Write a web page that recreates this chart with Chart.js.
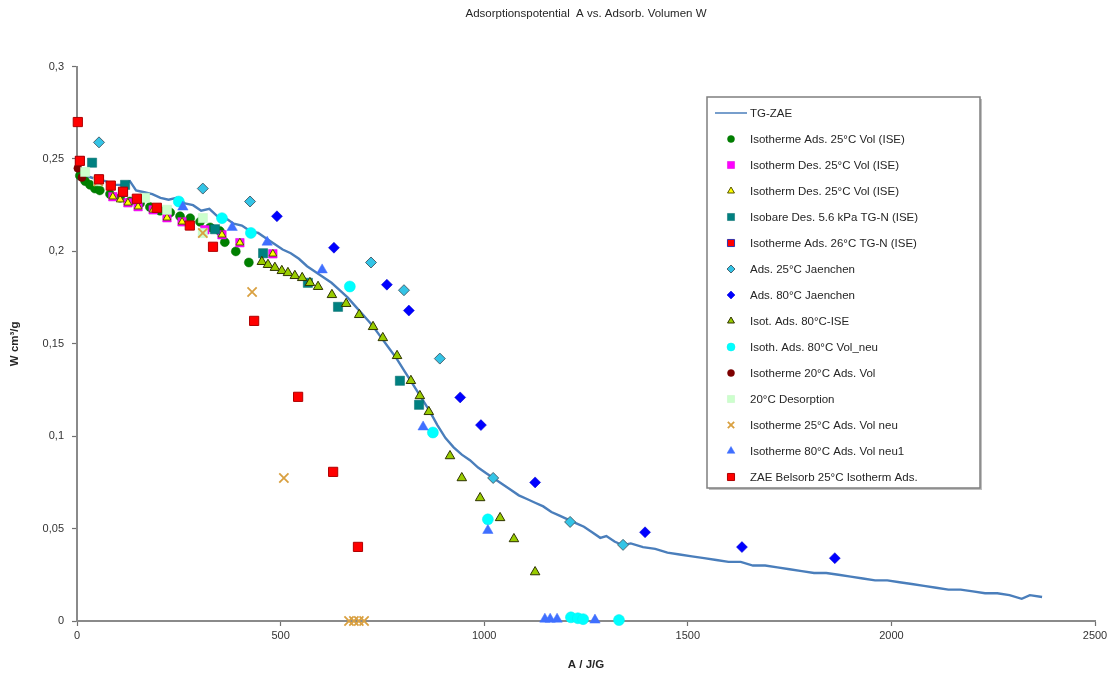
<!DOCTYPE html>
<html lang="de">
<head>
<meta charset="UTF-8">
<title>Adsorptionspotential A vs. Adsorb. Volumen W</title>
<script src="https://cdn.jsdelivr.net/npm/chart.js"></script>
<style>
  body { margin: 0; background: #ffffff; }
  canvas { display: block; }
</style>
</head>
<body>
<canvas id="chart" width="1119" height="684"></canvas>
<script>
// TG-ZAE measured curve (A in J/g, W in cm3/g)
const tgA = [0, 10, 20, 35, 50, 70, 90, 110, 130, 145, 165, 185, 205, 225, 245, 265, 285, 305, 325, 345,
  365, 385, 405, 425, 445, 465, 485, 505, 525, 545, 565, 585, 605, 625, 645, 665, 685, 705, 725, 745,
  765, 785, 805, 825, 845, 865, 885, 905, 925, 945, 965, 985, 1005, 1025, 1045, 1065, 1085, 1105, 1125, 1145,
  1165, 1185, 1205, 1225, 1245, 1265, 1285, 1300, 1320, 1340, 1360, 1390, 1420, 1450, 1480, 1510, 1540, 1570, 1600, 1630,
  1660, 1690, 1720, 1750, 1780, 1810, 1840, 1870, 1900, 1930, 1960, 1990, 2020, 2050, 2080, 2110, 2140, 2170, 2200, 2230,
  2260, 2290, 2320, 2340, 2370];
const tgW = [0.246, 0.243, 0.241, 0.240, 0.239, 0.238, 0.236, 0.236, 0.238, 0.233, 0.232, 0.231, 0.229, 0.228, 0.229, 0.226, 0.225, 0.222, 0.223, 0.219,
  0.218, 0.215, 0.214, 0.211, 0.210, 0.207, 0.204, 0.201, 0.199, 0.196, 0.192, 0.189, 0.186, 0.183, 0.179, 0.175, 0.170, 0.165, 0.160, 0.154,
  0.148, 0.142, 0.135, 0.128, 0.121, 0.114, 0.106, 0.099, 0.094, 0.090, 0.087, 0.083, 0.080, 0.077, 0.074, 0.071, 0.068, 0.066, 0.064, 0.062,
  0.059, 0.057, 0.055, 0.053, 0.051, 0.048, 0.045, 0.046, 0.043, 0.041, 0.042, 0.040, 0.039, 0.037, 0.036, 0.035, 0.034, 0.033, 0.032, 0.032,
  0.030, 0.030, 0.029, 0.028, 0.027, 0.026, 0.026, 0.025, 0.024, 0.023, 0.022, 0.022, 0.021, 0.020, 0.019, 0.018, 0.017, 0.017, 0.016, 0.015,
  0.015, 0.014, 0.012, 0.014, 0.013];

const ads25A = [7, 20, 32, 44, 56, 81, 106, 130, 155, 179, 204, 229, 253, 278, 302, 327, 351, 363, 390, 422];
const ads25W = [0.241, 0.238, 0.236, 0.234, 0.233, 0.231, 0.229, 0.227, 0.226, 0.224, 0.222, 0.221, 0.219, 0.218, 0.216, 0.213, 0.211, 0.205, 0.200, 0.194];

const des25mA = [88, 125, 150, 187, 221, 258, 314, 356, 400, 481];
const des25mW = [0.2296, 0.2263, 0.2242, 0.2225, 0.2182, 0.2160, 0.2117, 0.2090, 0.2047, 0.1987];

const des25tA = [88, 106, 125, 150, 187, 221, 258, 356, 400, 481];
const des25tW = [0.2296, 0.2280, 0.2263, 0.2242, 0.2225, 0.2182, 0.2160, 0.2090, 0.2047, 0.1987];

const isobarA = [37, 118, 339, 457, 567, 641, 793, 840];
const isobarW = [0.248, 0.236, 0.212, 0.199, 0.183, 0.170, 0.130, 0.117];

const ads26A = [7, 54, 113];
const ads26W = [0.249, 0.239, 0.232];

const jae25A = [54, 309, 425, 722, 803, 891, 1022, 1211, 1341];
const jae25W = [0.259, 0.234, 0.227, 0.194, 0.179, 0.142, 0.0774, 0.0536, 0.0412];

const jae80A = [491, 631, 761, 815, 941, 992, 1125, 1395, 1633, 1861];
const jae80W = [0.219, 0.202, 0.182, 0.168, 0.121, 0.106, 0.075, 0.048, 0.040, 0.034];

const ise80A = [454, 469, 486, 503, 518, 535, 553, 572, 592, 626, 661, 693, 727, 751, 786, 820, 842, 864, 916, 945, 990, 1039, 1073, 1125];
const ise80W = [0.1944, 0.1928, 0.1912, 0.1895, 0.1884, 0.1868, 0.1857, 0.1830, 0.1809, 0.1765, 0.1717, 0.1657, 0.1592, 0.1532, 0.1435, 0.1300, 0.1218, 0.1132, 0.0893, 0.0774, 0.0666, 0.0558, 0.0444, 0.0265];

const volNeuA = [250, 356, 427, 670, 874, 1009, 1213, 1230, 1243, 1331];
const volNeuW = [0.227, 0.218, 0.210, 0.181, 0.102, 0.055, 0.002, 0.0015, 0.001, 0.0005];

const ads20A = [2, 12];
const ads20W = [0.245, 0.240];

const des20A = [20, 52, 167, 221, 309, 309];
const des20W = [0.243, 0.238, 0.229, 0.2225, 0.218, 0.210];

const x25A = [52, 309, 430, 508, 668, 680, 692, 705];
const x25W = [0.238, 0.210, 0.178, 0.0774, 0, 0, 0, 0];

const neu1A = [260, 381, 467, 602, 850, 1009, 1149, 1162, 1179, 1272];
const neu1W = [0.224, 0.213, 0.205, 0.190, 0.105, 0.049, 0.001, 0.001, 0.001, 0.0005];

const belA = [2, 7, 54, 83, 113, 147, 196, 277, 334, 435, 543, 629, 690];
const belW = [0.270, 0.249, 0.239, 0.2356, 0.2323, 0.2285, 0.2236, 0.2140, 0.2025, 0.1624, 0.1213, 0.0807, 0.0401];

const xTicks = [0, 500, 1000, 1500, 2000, 2500];
const yTicks = [0, 0.05, 0.1, 0.15, 0.2, 0.25, 0.3];

function pts(xs, ys) {
  return xs.map((x, i) => ({ x: x, y: ys[i] }));
}

function scatter(label, xs, ys, style, fill, border, radius, bw, legendR) {
  return {
    label: label,
    data: pts(xs, ys),
    showLine: false,
    pointStyle: style,
    pointRadius: radius,
    pointHoverRadius: radius,
    backgroundColor: fill,
    borderColor: border,
    pointBorderWidth: bw,
    borderWidth: bw,
    legendRadius: legendR,
    clip: false
  };
}

const datasets = [
  {
    label: 'TG-ZAE',
    data: pts(tgA, tgW),
    showLine: true,
    borderColor: '#4a7ebb',
    backgroundColor: '#4a7ebb',
    borderWidth: 2.4,
    pointRadius: 0,
    tension: 0,
    clip: false
  },
  scatter('Isotherme Ads. 25°C Vol (ISE)', ads25A, ads25W, 'circle', '#008000', '#007000', 4.5, 0.5, 3.5),
  scatter('Isotherm Des. 25°C Vol (ISE)', des25mA, des25mW, 'rect', '#ff00ff', '#dd00dd', 6, 0.5, 5),
  scatter('Isotherm Des. 25°C Vol (ISE)', des25tA, des25tW, 'triangle', '#ffff00', '#555500', 4.5, 1, 4),
  scatter('Isobare Des. 5.6 kPa TG-N (ISE)', isobarA, isobarW, 'rect', '#008080', '#006a6a', 6.5, 0.5, 5),
  scatter('Isotherme Ads. 26°C TG-N (ISE)', ads26A, ads26W, 'rect', '#ff0000', '#3333aa', 6, 1, 5),
  scatter('Ads. 25°C Jaenchen', jae25A, jae25W, 'rectRot', '#33c4e6', '#4a6470', 5.5, 1, 4),
  scatter('Ads. 80°C Jaenchen', jae80A, jae80W, 'rectRot', '#0000ff', '#0000cc', 5.5, 0.5, 4),
  scatter('Isot. Ads. 80°C-ISE', ise80A, ise80W, 'triangle', '#99cc00', '#2e3300', 5.5, 1, 4),
  scatter('Isoth. Ads. 80°C Vol_neu', volNeuA, volNeuW, 'circle', '#00ffff', '#00eeee', 5.5, 0.5, 4),
  scatter('Isotherme 20°C Ads. Vol', ads20A, ads20W, 'circle', '#800000', '#700000', 4, 0.5, 3.5),
  scatter('20°C Desorption', des20A, des20W, 'rect', '#ccffcc', '#c4f5c4', 6.5, 0.5, 5),
  scatter('Isotherme 25°C Ads. Vol neu', x25A, x25W, 'crossRot', '#e0a040', '#d9a040', 6.5, 1.8, 4.5),
  scatter('Isotherme 80°C Ads. Vol neu1', neu1A, neu1W, 'triangle', '#3f6fff', '#3f6fff', 6, 0.5, 4.5),
  scatter('ZAE Belsorb 25°C Isotherm Ads.', belA, belW, 'rect', '#ff0000', '#b00000', 6.5, 1, 5)
];
// later series sit on top, as in the original spreadsheet chart
datasets.forEach((d, i) => { d.order = datasets.length - i; });

const legendBox = {
  id: 'legendBox',
  afterDraw(chart) {
    const ctx = chart.ctx;
    const x0 = 707, y0 = 97, w = 273, h = 391;
    ctx.save();
    ctx.fillStyle = 'rgba(0,0,0,0.25)';
    ctx.fillRect(x0 + 2, y0 + 2, w, h);
    ctx.fillStyle = '#ffffff';
    ctx.fillRect(x0, y0, w, h);
    ctx.strokeStyle = '#7f7f7f';
    ctx.lineWidth = 1.5;
    ctx.strokeRect(x0, y0, w, h);
    ctx.font = '11.5px "Liberation Sans", Arial, sans-serif';
    ctx.textBaseline = 'middle';
    chart.data.datasets.forEach((ds, i) => {
      const y = 113 + i * 26;
      if (ds.showLine) {
        ctx.strokeStyle = ds.borderColor;
        ctx.lineWidth = 1.5;
        ctx.beginPath();
        ctx.moveTo(715, y);
        ctx.lineTo(747, y);
        ctx.stroke();
      } else {
        ctx.fillStyle = ds.backgroundColor;
        ctx.strokeStyle = ds.borderColor;
        ctx.lineWidth = ds.borderWidth;
        Chart.helpers.drawPoint(ctx, {
          pointStyle: ds.pointStyle,
          radius: ds.legendRadius,
          rotation: 0,
          borderWidth: ds.borderWidth
        }, 731, y);
      }
      ctx.fillStyle = '#262626';
      ctx.fillText(ds.label, 750, y + 1);
    });
    ctx.restore();
  }
};

const axisFont = { family: '"Liberation Sans", Arial, sans-serif', size: 11 };

new Chart(document.getElementById('chart'), {
  type: 'scatter',
  data: { datasets: datasets },
  plugins: [legendBox],
  options: {
    responsive: false,
    devicePixelRatio: 1,
    animation: false,
    layout: { padding: { left: 0, right: 24, top: 0, bottom: 0 } },
    plugins: {
      legend: { display: false },
      tooltip: { enabled: false },
      title: {
        display: true,
        fullSize: false,
        text: 'Adsorptionspotential  A vs. Adsorb. Volumen W',
        color: '#262626',
        font: { family: '"Liberation Sans", Arial, sans-serif', size: 11.5, weight: 'normal' },
        padding: { top: 7, bottom: 45.8 }
      }
    },
    scales: {
      x: {
        type: 'linear',
        min: 0,
        max: 2500,
        afterBuildTicks: (axis) => { axis.ticks = xTicks.map(v => ({ value: v })); },
        afterFit: (axis) => { axis.height = 63; },
        border: { display: true, color: '#8a8a8a', width: 2 },
        grid: { display: true, drawOnChartArea: false, drawTicks: true, tickLength: 5, tickColor: '#707070', tickWidth: 1.2 },
        ticks: { color: '#333333', font: axisFont, padding: 3, maxRotation: 0, callback: (v) => String(v) },
        title: {
          display: true,
          text: 'A / J/G',
          color: '#262626',
          font: { family: '"Liberation Sans", Arial, sans-serif', size: 11.5, weight: 'bold' },
          padding: { top: 4, bottom: 12 }
        }
      },
      y: {
        type: 'linear',
        min: 0,
        max: 0.3,
        afterBuildTicks: (axis) => { axis.ticks = yTicks.map(v => ({ value: v })); },
        afterFit: (axis) => { axis.width = 77; },
        border: { display: true, color: '#8a8a8a', width: 2 },
        grid: { display: true, drawOnChartArea: false, drawTicks: true, tickLength: 5, tickColor: '#707070', tickWidth: 1.2 },
        ticks: {
          color: '#333333',
          font: axisFont,
          padding: 8,
          callback: (v) => String(Math.round(v * 100) / 100).replace('.', ',')
        },
        title: {
          display: true,
          text: 'W cm³/g',
          color: '#262626',
          font: { family: '"Liberation Sans", Arial, sans-serif', size: 11.5, weight: 'bold' },
          padding: { top: 8, bottom: 0 }
        }
      }
    }
  }
});
</script>
</body>
</html>
